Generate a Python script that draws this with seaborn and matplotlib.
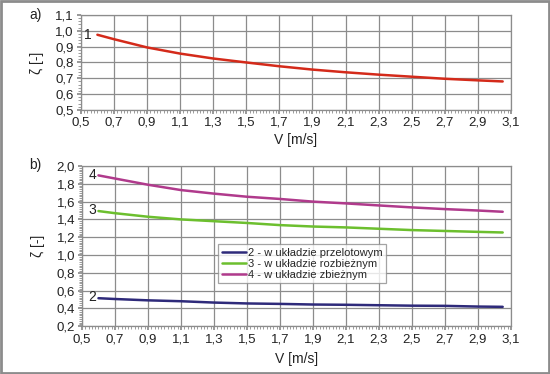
import numpy as np
import pandas as pd
import matplotlib
matplotlib.use("Agg")
import matplotlib.pyplot as plt
import seaborn as sns
from matplotlib.ticker import FixedLocator, MultipleLocator, FuncFormatter
from matplotlib.patches import Rectangle

# ---- data ----
v = [0.6, 0.7, 0.9, 1.1, 1.3, 1.5, 1.7, 1.9, 2.1, 2.3, 2.5, 2.7, 2.9, 3.05]
zeta1 = [0.975, 0.947, 0.895, 0.856, 0.825, 0.800, 0.776, 0.755, 0.738, 0.723, 0.710, 0.697, 0.687, 0.680]
zeta2 = [0.514, 0.505, 0.490, 0.480, 0.465, 0.455, 0.450, 0.443, 0.440, 0.435, 0.430, 0.428, 0.420, 0.417]
zeta3 = [1.494, 1.470, 1.430, 1.400, 1.380, 1.360, 1.336, 1.320, 1.310, 1.295, 1.280, 1.270, 1.260, 1.253]
zeta4 = [1.895, 1.860, 1.790, 1.730, 1.690, 1.655, 1.630, 1.600, 1.580, 1.557, 1.535, 1.516, 1.500, 1.486]
x_ticks = [0.5, 0.7, 0.9, 1.1, 1.3, 1.5, 1.7, 1.9, 2.1, 2.3, 2.5, 2.7, 2.9, 3.1]
legend_labels = ["2 - w układzie przelotowym", "3 - w układzie rozbieżnym", "4 - w układzie zbieżnym"]
colors = ["#2e2a7a", "#6cbf2e", "#b03a8c"]
red = "#d42a1a"

sns.set_theme(style="white")
plt.rcParams['font.family'] = ['Liberation Sans', 'DejaVu Sans']
plt.rcParams['font.size'] = 9

fig = plt.figure(figsize=(5.5, 3.74), dpi=100)
ax1 = fig.add_axes([0.147, 0.706, 0.782, 0.254])
ax2 = fig.add_axes([0.149, 0.128, 0.780, 0.428])

fmt = FuncFormatter(lambda x, p: f"{x:.1f}".replace(".", ","))

def style(ax, ylo, yhi, ymaj, xpad):
    ax.set_xlim(0.5, 3.1)
    ax.set_ylim(ylo, yhi)
    ax.xaxis.set_major_locator(FixedLocator(x_ticks))
    ax.xaxis.set_minor_locator(MultipleLocator(0.02))
    ax.yaxis.set_major_locator(MultipleLocator(ymaj))
    ax.yaxis.set_minor_locator(MultipleLocator(0.02))
    ax.xaxis.set_major_formatter(fmt)
    ax.yaxis.set_major_formatter(fmt)
    ax.grid(True, which='major', color='#8c8c8c', linewidth=0.9)
    for s in ax.spines.values():
        s.set_color('#8c8c8c')
        s.set_linewidth(0.9)
    ax.tick_params(axis='both', which='both', direction='out', colors='#8c8c8c',
                   labelcolor='#222222', labelsize=9.5, pad=2)
    ax.tick_params(which='major', length=3)
    ax.tick_params(which='minor', length=2, width=0.6)
    ax.tick_params(axis='both', which='both', bottom=True, left=True)
    ax.set_ylabel("ζ [-]", fontsize=10, color='#222222', labelpad=8)
    ax.set_xlabel("V [m/s]", fontsize=10, color='#222222', labelpad=xpad)

df1 = pd.DataFrame({"V": v, "zeta": zeta1})
sns.lineplot(data=df1, x="V", y="zeta", ax=ax1, color=red, linewidth=1.8)
style(ax1, 0.5, 1.1, 0.1, 3)
ax1.text(0.568, zeta1[0], "1", ha='right', va='center', fontsize=10, color='#222222')

rows = []
for lab, z in zip(legend_labels, [zeta2, zeta3, zeta4]):
    for x, y in zip(v, z):
        rows.append({"V": x, "zeta": y, "seria": lab})
df2 = pd.DataFrame(rows)
sns.lineplot(data=df2, x="V", y="zeta", hue="seria", palette=colors, ax=ax2,
             linewidth=1.8, hue_order=legend_labels)
style(ax2, 0.2, 2.0, 0.2, 5)
for num, z in zip(["2", "3", "4"], [zeta2, zeta3, zeta4]):
    ax2.text(0.585, z[0] + 0.01, num, ha='right', va='center', fontsize=10, color='#222222')

leg = ax2.legend(loc='upper left', bbox_to_anchor=(0.318, 0.51), fontsize=8,
                 frameon=True, fancybox=False, handlelength=2.2, handletextpad=0.15,
                 borderpad=0.3, labelspacing=0.1, borderaxespad=0)
leg.get_frame().set_edgecolor('#8c8c8c')
leg.get_frame().set_linewidth(0.9)

fig.text(0.065, 0.96, "a)", fontsize=10, ha='center', va='center', color='#222222')
fig.text(0.065, 0.558, "b)", fontsize=10, ha='center', va='center', color='#222222')

fig.patches.append(Rectangle((0.002, 0.003), 0.996, 0.994, transform=fig.transFigure,
                             fill=False, edgecolor='#8c8c8c', linewidth=2))

fig.savefig("out.png", dpi=100)
